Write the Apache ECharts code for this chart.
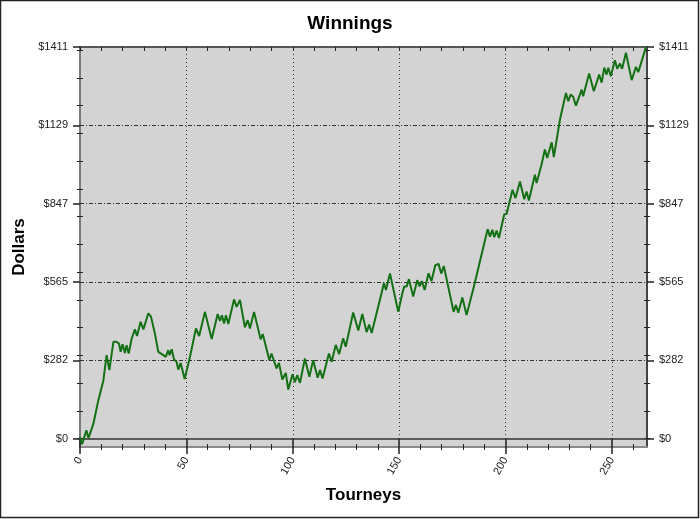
<!DOCTYPE html>
<html><head><meta charset="utf-8">
<script src="https://cdn.jsdelivr.net/npm/echarts@6/dist/echarts.min.js"></script>
<style>html,body{margin:0;padding:0;background:#fff}#c{width:700px;height:519px}</style>
</head><body><div id="c"></div>
<script>
// ---- data ----
const tourneys = [0,1,3,4,6.3,8.6,11,12.5,13.8,15.7,
17.2,18.3,19.1,20,21.1,21.9,22.9,24.3,25.8,26.8,
28.5,29.8,32.1,33.4,35.2,36.8,39.2,40.3,41.5,42.1,
43.1,44.2,45.4,46.2,47.3,49.2,51.7,54.5,56,58.7,
61.9,64.7,65.8,66.7,67.7,68.6,69.7,72.4,73.6,75.2,
77.5,78.8,79.9,81.8,84.9,85.9,89,90,92.4,93.5,
95.1,96.7,97.9,99.9,101,102.1,103.4,105.7,107.8,109.6,
111.7,112.8,114,117,118.3,120.2,121.8,123.7,124.9,128.4,
130.8,132.7,134.7,135.9,137.1,142.9,143.8,145.7,149.6,151.5,
152.4,153.5,154.6,156.6,158.5,159.6,160.6,162,163.8,165.2,
167,168.5,169.8,171,175.6,176.7,177.8,179.7,181.7,185.2,
191.6,192.7,193.8,194.7,195.8,196.9,199.4,200.5,203.3,204.7,
206.8,208.8,209.9,211,213.8,214.6,216.9,218.5,219.6,221.7,
222.7,225.6,228.4,229.5,230.6,231.8,233.1,235.8,236.5,239.3,
241.5,244,245.2,246.4,247.5,248.3,249.5,251.4,252.5,253.8,
254.8,256.6,259.3,261.3,262.4,266];
const dollars = [5,-20,30,2,54,138,210,301,247,349,
349,343,313,340,309,337,307,361,394,370,
421,394,452,439,379,313,301,295,319,301,
322,285,277,249,273,215,295,397,370,457,
359,449,424,445,415,445,413,502,475,500,
401,427,397,457,358,377,283,307,253,273,
213,237,177,232,204,229,201,289,223,283,
220,247,217,307,277,338,305,362,331,455,
390,449,384,411,381,561,536,595,457,524,
548,548,575,512,571,549,568,536,596,568,
625,630,595,622,457,482,454,509,446,550,
755,728,753,726,750,723,809,810,897,867,
927,863,891,858,951,921,987,1042,1012,1068,
1015,1150,1246,1216,1240,1232,1200,1258,1234,1316,
1252,1312,1283,1337,1312,1337,1306,1364,1333,1352,
1333,1391,1292,1340,1321,1411];
const xMajorTicks = [0,50,100,150,200,250];
const xMinorTicks = [10,20,30,40,60,70,80,90,110,120,130,140,160,170,180,190,210,220,230,240,260];
const yTickValues = [0,282.3,564.6,846.9,1129.2,1411.5];
const yTickLabels = ['$0','$282','$565','$847','$1129','$1411'];
const yMinorTicks = [0,100,200,300,400,500,600,700,800,900,1000,1100,1200,1300,1400];

const X_MIN = 0, X_MAX = 266.5, Y_MIN = -30, Y_MAX = 1411.5;
const FONT = 'Liberation Sans, Arial, sans-serif';
const axisText = {fontFamily: FONT, fontSize: 11, color: '#222'};
const tickStyle = {color: '#222', width: 1};
const majorTickStyle = {color: '#222', width: 1.5};

function xAx(o) {
  return Object.assign({type:'value', min:X_MIN, max:X_MAX, position:'bottom',
    axisLine:{show:false, onZero:false}, axisTick:{show:false}, axisLabel:{show:false},
    splitLine:{show:false}, minorTick:{show:false}}, o);
}
function yAx(o) {
  return Object.assign({type:'value', min:Y_MIN, max:Y_MAX, position:'left',
    axisLine:{show:false, onZero:false}, axisTick:{show:false}, axisLabel:{show:false},
    splitLine:{show:false}, minorTick:{show:false}}, o);
}
const yFmt = v => {
  const i = yTickValues.findIndex(t => Math.abs(t - v) < 1);
  return i >= 0 ? yTickLabels[i] : '';
};
const nameStyle = {fontFamily: FONT, fontSize: 17, fontWeight: 'bold', color: '#000'};

const option = {
  animation: false,
  backgroundColor: '#fff',
  title: {text: 'Winnings', left: 'center', top: 9,
    textStyle: {fontFamily: FONT, fontSize: 19, fontWeight: 'bold', color: '#000'}},
  grid: {left: 80, right: 53, top: 47, bottom: 72, show: true,
    backgroundColor: '#d3d3d3', borderWidth: 0},
  xAxis: [
    xAx({axisLine:{show:true, onZero:false, lineStyle:{color:'#8a8a8a', width:2}},
      axisTick:{show:true, customValues:xMajorTicks, length:7, lineStyle:majorTickStyle},
      axisLabel:Object.assign({show:true, customValues:xMajorTicks, rotate:60, margin:11}, axisText),
      name:'Tourneys', nameLocation:'middle', nameGap:40, nameTextStyle:nameStyle}),
    xAx({axisTick:{show:true, customValues:xMinorTicks, length:3, lineStyle:tickStyle}}),
    xAx({axisTick:{show:true, inside:true, customValues:xMajorTicks, length:9, lineStyle:majorTickStyle}}),
    xAx({axisTick:{show:true, inside:true, customValues:xMinorTicks, length:3, lineStyle:tickStyle}}),
    xAx({position:'top', axisLine:{show:true, onZero:false, lineStyle:{color:'#555', width:2}},
      axisTick:{show:true, inside:true, customValues:xMajorTicks.concat(xMinorTicks), length:4, lineStyle:tickStyle}})
  ],
  yAxis: [
    yAx({axisLine:{show:true, onZero:false, lineStyle:{color:'#7a7a7a', width:2}},
      axisTick:{show:true, customValues:yTickValues, length:7, lineStyle:majorTickStyle},
      axisLabel:Object.assign({show:true, customValues:yTickValues, formatter:yFmt, margin:12}, axisText),
      name:'Dollars', nameLocation:'middle', nameGap:47, nameTextStyle:nameStyle}),
    yAx({axisTick:{show:true, customValues:yMinorTicks, length:3, lineStyle:tickStyle}}),
    yAx({axisTick:{show:true, inside:true, customValues:yMinorTicks, length:3, lineStyle:tickStyle}}),
    yAx({position:'right', axisLine:{show:true, onZero:false, lineStyle:{color:'#444', width:2}},
      axisTick:{show:true, customValues:yTickValues, length:7, lineStyle:majorTickStyle},
      axisLabel:Object.assign({show:true, customValues:yTickValues, formatter:yFmt, margin:12}, axisText)}),
    yAx({position:'right', axisTick:{show:true, customValues:yMinorTicks, length:3, lineStyle:tickStyle}}),
    yAx({position:'right', axisTick:{show:true, inside:true, customValues:yMinorTicks, length:3, lineStyle:tickStyle}})
  ],
  series: [
    {
      name: 'grid', type: 'line', data: [[X_MIN, 0]], showSymbol: false, symbol: 'none',
      lineStyle: {opacity: 0}, silent: true, z: 1,
      markLine: {
        silent: true, symbol: ['none','none'], label: {show: false}, z: 1, animation: false,
        emphasis: {disabled: true},
        data: [
          ...xMajorTicks.slice(1).map(v => ({xAxis: v, lineStyle: {color:'#333', width:1, type:[1,3]}})),
          ...yTickValues.slice(1, -1).map(v => ({yAxis: v, lineStyle: {color:'#333', width:1, type:[4,2,1,2]}})),
          {yAxis: 0, lineStyle: {color:'#333', width:1.5, type:'solid'}}
        ]
      }
    },
    {
      name: 'Winnings', type: 'line', z: 3,
      data: tourneys.map((t, i) => [t, dollars[i]]),
      showSymbol: false, symbol: 'none', smooth: false,
      lineStyle: {color: '#147014', width: 2},
      itemStyle: {color: '#147014'}
    }
  ],
  graphic: [{
    type: 'rect', silent: true, z: 100,
    shape: {x: 0.5, y: 0.5, width: 698, height: 517},
    style: {fill: 'none', stroke: '#222', lineWidth: 1.5}
  }]
};
const chart = echarts.init(document.getElementById('c'));
chart.setOption(option);
</script>
</body></html>
